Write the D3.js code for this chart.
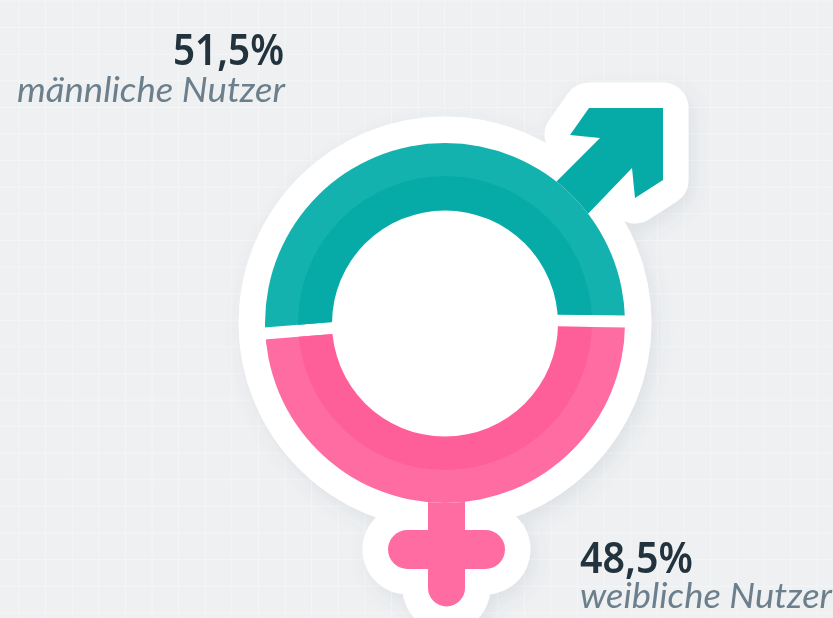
<!DOCTYPE html>
<html><head><meta charset="utf-8">
<script src="https://cdn.jsdelivr.net/npm/d3@7"></script>
<style>html,body{margin:0;padding:0;background:#eef0f2;overflow:hidden}svg{display:block;filter:blur(.6px)}</style>
</head><body><svg id="c" width="833" height="618"></svg>
<script>
const categories = ["männliche Nutzer", "weibliche Nutzer"];
const shares = [51.5, 48.5];
const shareLabels = ["51,5%", "48,5%"];
const outerColors = ["#14b2af", "#ff6ca2"];
const innerColors = ["#06aba8", "#ff5f99"];

const W = 833, H = 618, cx = 445, cy = 323, pivotY = 319;
const R = 180, Rm = 147, Ri = 113, halo = 25.5;
const svg = d3.select("#c");
const defs = svg.append("defs");
const f = defs.append("filter").attr("id","sh").attr("x","-20%").attr("y","-20%").attr("width","140%").attr("height","140%");
f.append("feDropShadow").attr("dx",5).attr("dy",7).attr("stdDeviation",9).attr("flood-color","#5a6670").attr("flood-opacity",.11);

svg.append("rect").attr("width",W).attr("height",H).attr("fill","#eef0f2");
const grid = svg.append("g").attr("stroke","#f4f5f6").attr("stroke-width",1);
const gx = d3.scaleLinear().domain([0,31]).range([19,19+31*26.6]);
const gy = d3.scaleLinear().domain([0,23]).range([1,1+23*26.6]);
grid.selectAll("line.v").data(d3.range(-1,31)).join("line").attr("x1",gx).attr("x2",gx).attr("y1",0).attr("y2",H);
grid.selectAll("line.h").data(d3.range(0,24)).join("line").attr("y1",gy).attr("y2",gy).attr("x1",0).attr("x2",W);

const arrowOutline = "M558 180L600 138L570 135L589 108L663 108L663 180L635 198L632 168L590 213Z";
const arrowD = "M528 210L600 138L570 135L589 108L663 108L663 180L635 198L632 168L560 243Z";
const stemD = "M446.5 480L446.5 588";
const barD = "M407.5 549.5L485.5 549.5";

// white sticker outline
const sticker = svg.append("g").attr("filter","url(#sh)").attr("fill","#fff").attr("stroke","#fff");
sticker.append("path").attr("d",arrowOutline).attr("stroke-width",2*halo).attr("stroke-linejoin","round");
sticker.append("path").attr("d",stemD).attr("stroke-width",37+2*halo).attr("stroke-linecap","round");
sticker.append("path").attr("d",barD).attr("stroke-width",39+2*halo).attr("stroke-linecap","round");
sticker.append("circle").attr("cx",cx).attr("cy",cy).attr("r",R+halo+.5);

// symbol strokes
svg.append("path").attr("d",arrowD).attr("fill",innerColors[0]);
svg.append("path").attr("d",stemD).attr("fill","none").attr("stroke",outerColors[1]).attr("stroke-width",37).attr("stroke-linecap","round");
svg.append("path").attr("d",barD).attr("fill","none").attr("stroke",outerColors[1]).attr("stroke-width",39).attr("stroke-linecap","round");
svg.append("circle").attr("cx",cx).attr("cy",cy).attr("r",R).attr("fill","#fff");

// ring slices from the shares
const pie = d3.pie().sort(null).startAngle(-94.6*Math.PI/180).endAngle(265.4*Math.PI/180)(shares);
const wedge = d3.arc().innerRadius(60).outerRadius(320).padRadius(320).padAngle(12/320);
pie.forEach((p,i)=>{
  defs.append("clipPath").attr("id","w"+i).append("path")
    .attr("transform",`translate(${cx},${pivotY})`).attr("d",wedge(p));
  const g = svg.append("g").attr("clip-path",`url(#w${i})`);
  g.append("circle").attr("cx",cx).attr("cy",cy).attr("r",R).attr("fill",outerColors[i]);
  g.append("circle").attr("cx",cx).attr("cy",cy).attr("r",Rm).attr("fill",innerColors[i]);
});
svg.append("circle").attr("cx",cx).attr("cy",cy+.5).attr("r",Ri).attr("fill","#fff");

// labels
const labels = [
 {x:284,y:65,sx:285,sy:102,anchor:"end",w:111,sw:268},
 {x:580,y:573,sx:580,sy:608,anchor:"start",w:113,sw:252}
];
labels.forEach((l,i)=>{
  svg.append("text").attr("x",l.x).attr("y",l.y).attr("text-anchor",l.anchor)
    .attr("font-family","'Noto Sans'").attr("font-weight",600).attr("font-size",44)
    .attr("fill","#22333e").attr("textLength",l.w).attr("lengthAdjust","spacingAndGlyphs").text(shareLabels[i]);
  svg.append("text").attr("x",l.sx).attr("y",l.sy).attr("text-anchor",l.anchor)
    .attr("font-family","Lato").attr("font-style","italic").attr("font-size",34)
    .attr("fill","#6b7f8c").attr("textLength",l.sw).attr("lengthAdjust","spacingAndGlyphs").text(categories[i]);
});
</script></body></html>
